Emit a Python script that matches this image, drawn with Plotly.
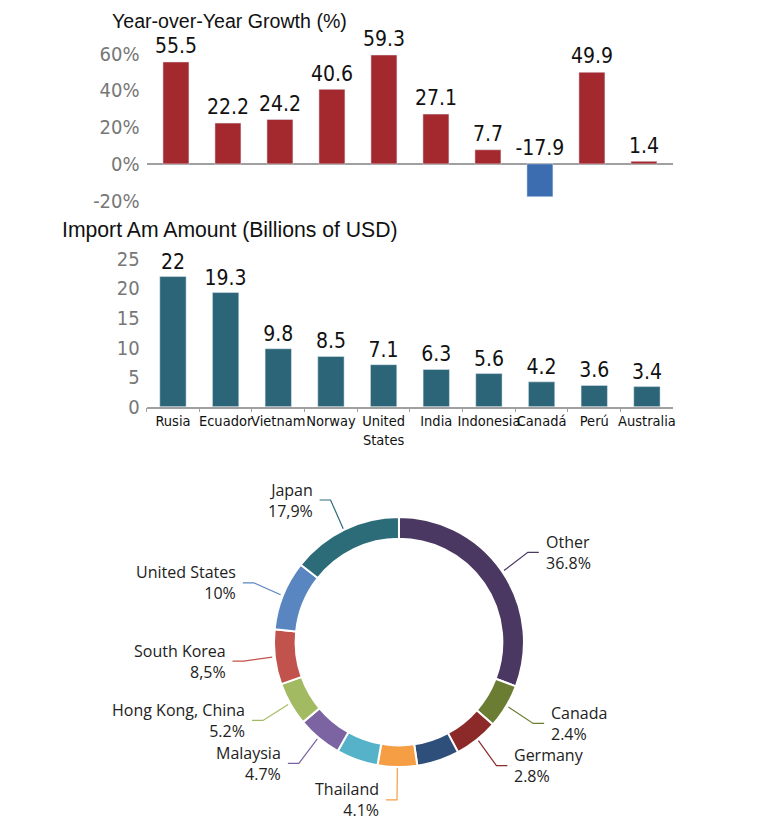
import math
import plotly.graph_objects as go

# Bar chart data
countries = ["Rusia", "Ecuador", "Vietnam", "Norway", "United<br>States",
             "India", "Indonesia", "Canadá", "Perú", "Australia"]
growth_pct = [55.5, 22.2, 24.2, 40.6, 59.3, 27.1, 7.7, -17.9, 49.9, 1.4]
import_bn = [22, 19.3, 9.8, 8.5, 7.1, 6.3, 5.6, 4.2, 3.6, 3.4]
growth_ticks = [-20, 0, 20, 40, 60]
import_ticks = [0, 5, 10, 15, 20, 25]

# Donut data (slice sizes, labels as printed)
share_values = [30.8, 5.7, 5.7, 5.5, 5.1, 5.4, 5.8, 5.6, 7.1, 9.0, 14.4]
share_names = ["Other", "Canada", "Germany", None, "Thailand", None,
               "Malaysia", "Hong Kong, China", "South Korea", "United States", "Japan"]
share_text = ["36.8%", "2.4%", "2.8%", None, "4.1%", None,
              "4.7%", "5.2%", "8,5%", "10%", "17,9%"]
share_colors = ["#4A3862", "#6B7D33", "#8B2A29", "#2E4F7A", "#F59E43", "#55B2C9",
                "#7C64A3", "#A2BB62", "#C2524C", "#5986C1", "#2C6C79"]

W, H = 770, 829
SY = 1.0152  # the photographed page comes out slightly squeezed vertically
RED, BLUE, TEAL = "#A4292E", "#3C6DB0", "#2C6577"
NARROW = "DejaVu Sans Condensed, sans-serif"
SANS = "Liberation Sans, Arial, sans-serif"
PIE_FONT = "Open Sans, sans-serif"


def px_x(p):
    return p / W


def px_y(p):
    return 1 - p * SY / H


fig = go.Figure()

# top: growth bars
fig.add_trace(go.Bar(
    x=countries, y=growth_pct, width=0.5,
    marker_color=[RED if v >= 0 else BLUE for v in growth_pct],
    xaxis="x", yaxis="y", showlegend=False, hoverinfo="x+y"))
# value labels sit above the bar, or above the zero line for the negative one
fig.add_trace(go.Scatter(
    x=countries, y=[max(v, 0) for v in growth_pct], mode="markers+text",
    marker=dict(size=4, opacity=0),
    text=[f"{v:g}" for v in growth_pct], textposition="top center",
    textfont=dict(family=NARROW, size=21, color="#111"), cliponaxis=False,
    xaxis="x", yaxis="y", showlegend=False, hoverinfo="skip"))

# bottom: import bars
fig.add_trace(go.Bar(
    x=countries, y=import_bn, width=0.5, marker_color=TEAL,
    text=[f"{v:g}" for v in import_bn], textposition="outside",
    constraintext="none",
    textfont=dict(family=NARROW, size=21, color="#111"), cliponaxis=False,
    xaxis="x2", yaxis="y2", showlegend=False))

# donut
cx, cy, R = 400, 641.5, 127
fig.add_trace(go.Pie(
    values=share_values, sort=False, direction="clockwise", rotation=0,
    hole=0.827, textinfo="none", showlegend=False,
    marker=dict(colors=share_colors, line=dict(color="white", width=2)),
    domain=dict(x=[px_x(cx - R), px_x(cx + R)],
                y=[px_y(cy + R / SY), px_y(cy - R / SY)])))

# donut labels with leader lines, placed from slice mid-angles
total = sum(share_values)
acc = 0
shapes = []
annotations = []
for v, name, txt, col in zip(share_values, share_names, share_text, share_colors):
    mid = math.radians((acc + v / 2) / total * 360)
    acc += v
    if name is None:
        continue
    s, c = math.sin(mid), math.cos(mid)
    side = 1 if s >= 0 else -1
    x0, y0 = cx + (R + 1) * s, cy - (R - 1) * c
    x1, y1 = cx + 157 * s, cy - 158 * c
    x2 = x1 + side * 11
    path = (f"M {px_x(x0)} {px_y(y0)} L {px_x(x1)} {px_y(y1)} "
            f"L {px_x(x2)} {px_y(y1)}")
    shapes.append(dict(type="path", xref="paper", yref="paper", path=path,
                       line=dict(color=col, width=1.2)))
    annotations.append(dict(
        x=px_x(x2 + side * 5), y=px_y(y1), xref="paper", yref="paper",
        text=f"{name}<br>{txt}", showarrow=False,
        xanchor="left" if side > 0 else "right", yanchor="middle",
        align="left" if side > 0 else "right",
        font=dict(family=PIE_FONT, size=16, color="#222")))

annotations.append(dict(x=px_x(110), y=px_y(20), xref="paper", yref="paper",
                        text="Year-over-Year Growth (%)", showarrow=False,
                        xanchor="left", yanchor="middle",
                        font=dict(family=SANS, size=19.6, color="#111")))
annotations.append(dict(x=px_x(60), y=px_y(229), xref="paper", yref="paper",
                        text="Import Am Amount (Billions of USD)", showarrow=False,
                        xanchor="left", yanchor="middle",
                        font=dict(family=SANS, size=21.2, color="#111")))

# axis geometry (pixels)
x_left, x_right = 147, 675
g_zero, g_per = 163, 1.8375
g_lo, g_hi = -22, 66
i_zero, i_per = 406, 5.92
i_hi = 27

fig.update_layout(
    width=W, height=H, margin=dict(l=0, r=0, t=0, b=0),
    paper_bgcolor="white", plot_bgcolor="white",
    bargap=0.5,
    xaxis=dict(domain=[px_x(x_left), px_x(x_right)], anchor="y",
               showticklabels=False, showline=False, showgrid=False,
               zeroline=False, ticks="", fixedrange=True),
    yaxis=dict(domain=[px_y(g_zero - g_lo * g_per), px_y(g_zero - g_hi * g_per)],
               anchor="x", range=[g_lo, g_hi], tickvals=growth_ticks,
               ticktext=[f"{t}%" for t in growth_ticks],
               showgrid=False, zeroline=True,
               zerolinecolor="#A0A0A0", zerolinewidth=1.5, showline=False,
               tickfont=dict(family=NARROW, size=20, color="#777"), ticklabelstandoff=6),
    xaxis2=dict(domain=[px_x(x_left), px_x(x_right)], anchor="y2",
                showline=True, linecolor="#A0A0A0", linewidth=1.5,
                ticks="outside", tickson="boundaries", ticklen=4, tickcolor="#A0A0A0",
                showgrid=False, tickangle=0,
                tickfont=dict(family=NARROW, size=14.5, color="#111")),
    yaxis2=dict(domain=[px_y(i_zero), px_y(i_zero - i_hi * i_per)], anchor="x2",
                range=[0, i_hi], tickvals=import_ticks, showgrid=False,
                zeroline=False, showline=False,
                tickfont=dict(family=NARROW, size=20, color="#777"), ticklabelstandoff=6),
    shapes=shapes,
    annotations=annotations,
)

# let the figure sit flush in the window instead of behind the default body margin
fig.write_html("out.html", config={"displayModeBar": False}, post_script=(
    "document.documentElement.style.margin='0';"
    "document.body.style.margin='0';"
    "document.body.style.overflow='hidden';"))
